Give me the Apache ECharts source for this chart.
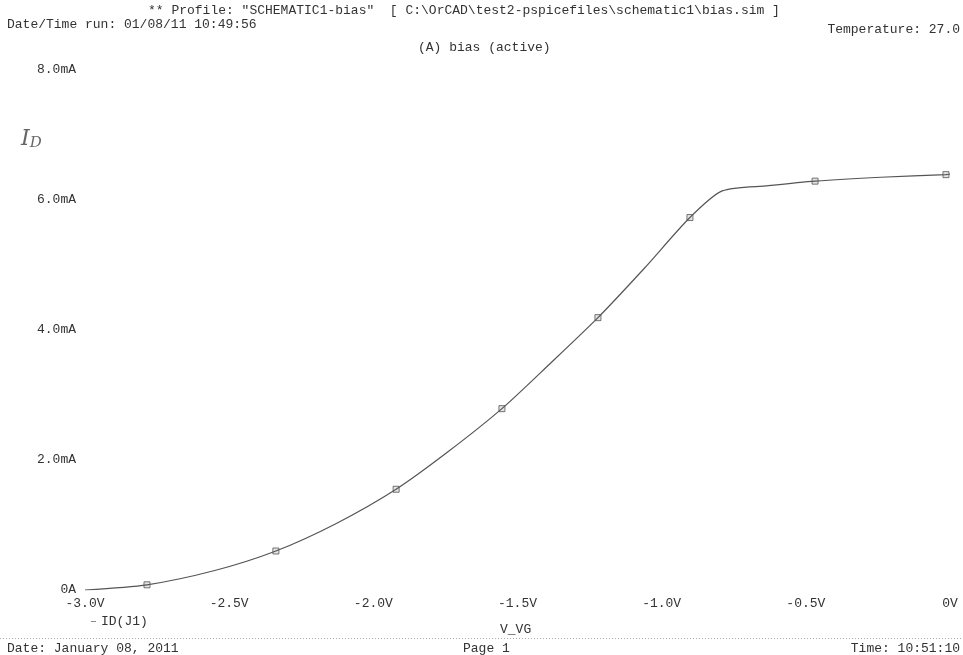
<!DOCTYPE html>
<html>
<head>
<meta charset="utf-8">
<script src="https://cdn.jsdelivr.net/npm/echarts@6/dist/echarts.min.js"></script>
<style>
html,body{margin:0;padding:0;background:#fff;}
#chart{width:963px;height:655px;}
</style>
</head>
<body>
<div id="chart"></div>
<script>
// Gate voltage V_VG (V) and drain current ID(J1) (mA)
const vgValues = [-3.0, -2.785, -2.55, -2.338, -2.13, -1.921, -1.74, -1.554, -1.39, -1.221, -1.06, -0.902, -0.79, -0.63, -0.468, -0.24, -0.014, 0.0];
const idValues = [0.0, 0.08, 0.30, 0.60, 1.02, 1.55, 2.13, 2.79, 3.47, 4.19, 4.95, 5.73, 6.14, 6.22, 6.29, 6.35, 6.39, 6.40];
// PSpice trace marker positions
const markerV = [-2.785, -2.338, -1.921, -1.554, -1.221, -0.902, -0.468, -0.014];
const markerI = [0.08, 0.60, 1.55, 2.79, 4.19, 5.73, 6.29, 6.39];

const FONT = '"Liberation Mono", "DejaVu Sans Mono", monospace';
const TXT = '#333';
const FS = 13;

const chart = echarts.init(document.getElementById('chart'), null, {renderer: 'canvas'});
const lineData = vgValues.map((v, i) => [v, idValues[i]]);
const markData = markerV.map((v, i) => [v, markerI[i]]);

chart.setOption({
  backgroundColor: '#fff',
  animation: false,
  grid: {left: 85, right: 13, top: 70, bottom: 65},
  xAxis: {
    type: 'value', min: -3.0, max: 0, interval: 0.5,
    axisLine: {show: false}, axisTick: {show: false}, splitLine: {show: false},
    axisLabel: {
      margin: 7, color: TXT, fontFamily: FONT, fontSize: FS,
      formatter: v => (Math.abs(v) < 1e-9 ? '0V' : v.toFixed(1) + 'V')
    }
  },
  yAxis: {
    type: 'value', min: 0, max: 8, interval: 2,
    axisLine: {show: false}, axisTick: {show: false}, splitLine: {show: false},
    axisLabel: {
      margin: 9, color: TXT, fontFamily: FONT, fontSize: FS,
      formatter: v => (v === 0 ? '0A' : v.toFixed(1) + 'mA')
    }
  },
  legend: {
    show: true, left: 86, top: 610, itemWidth: 5, itemHeight: 1, itemGap: 6,
    icon: 'rect',
    textStyle: {color: TXT, fontFamily: FONT, fontSize: FS},
    data: [{name: 'ID(J1)'}]
  },
  series: [
    {
      name: 'ID(J1)', type: 'line', data: lineData, smooth: 0.25,
      showSymbol: false, symbol: 'none',
      lineStyle: {color: '#555', width: 1.2},
      itemStyle: {color: '#888'}
    },
    {
      name: 'markers', type: 'scatter', data: markData,
      symbol: 'rect', symbolSize: 6,
      itemStyle: {color: '#ddd', borderColor: '#555', borderWidth: 1}
    }
  ],
  graphic: [
    {type: 'text', left: 148, top: 4, style: {text: '** Profile: "SCHEMATIC1-bias"  [ C:\\OrCAD\\test2-pspicefiles\\schematic1\\bias.sim ]', fill: TXT, font: FS + 'px ' + FONT}},
    {type: 'text', left: 7, top: 18, style: {text: 'Date/Time run: 01/08/11 10:49:56', fill: TXT, font: FS + 'px ' + FONT}},
    {type: 'text', right: 3, top: 23, style: {text: 'Temperature: 27.0', fill: TXT, font: FS + 'px ' + FONT}},
    {type: 'text', left: 418, top: 41, style: {text: '(A) bias (active)', fill: TXT, font: FS + 'px ' + FONT}},
    {type: 'text', left: 21, top: 128, style: {
      text: '{i|I}{d|D}', rich: {
        i: {fill: '#666', font: 'italic 22px "DejaVu Serif", serif'},
        d: {fill: '#666', font: 'italic 15px "DejaVu Serif", serif', padding: [8, 0, 0, 0]}
      }
    }},
    {type: 'text', left: 500, top: 623, style: {text: 'V_VG', fill: TXT, font: FS + 'px ' + FONT}},
    {type: 'line', shape: {x1: 0, y1: 638.5, x2: 963, y2: 638.5}, style: {stroke: '#aaa', lineWidth: 1, lineDash: [1, 2]}},
    {type: 'text', left: 7, top: 642, style: {text: 'Date: January 08, 2011', fill: TXT, font: FS + 'px ' + FONT}},
    {type: 'text', left: 463, top: 642, style: {text: 'Page 1', fill: TXT, font: FS + 'px ' + FONT}},
    {type: 'text', right: 3, top: 642, style: {text: 'Time: 10:51:10', fill: TXT, font: FS + 'px ' + FONT}}
  ]
});
</script>
</body>
</html>
